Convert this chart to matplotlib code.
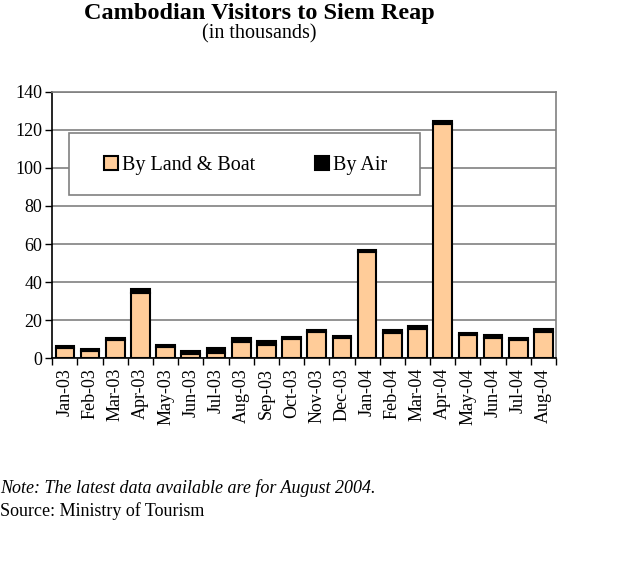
import matplotlib
matplotlib.use("Agg")
import matplotlib.pyplot as plt
from matplotlib.patches import Rectangle, Patch
import numpy as np

months = ["Jan-03", "Feb-03", "Mar-03", "Apr-03", "May-03", "Jun-03", "Jul-03",
          "Aug-03", "Sep-03", "Oct-03", "Nov-03", "Dec-03", "Jan-04", "Feb-04",
          "Mar-04", "Apr-04", "May-04", "Jun-04", "Jul-04", "Aug-04"]
land_boat = [5.5, 4.0, 9.8, 34.3, 5.7, 2.5, 3.0, 8.6, 7.0, 10.0, 13.6, 10.7,
             56.0, 13.4, 15.4, 123.3, 12.0, 10.6, 9.4, 14.0]
by_air = [1.0, 1.0, 1.0, 2.0, 1.2, 1.5, 2.4, 2.0, 1.9, 1.0, 1.4, 1.0,
          1.0, 1.4, 1.5, 1.5, 1.4, 1.4, 1.2, 1.5]
yticks = [0, 20, 40, 60, 80, 100, 120, 140]

plt.rcParams['font.family'] = ['Liberation Serif', 'DejaVu Serif']

fig = plt.figure(figsize=(6.2, 5.73), dpi=100)
ax = fig.add_axes([52.3/620, 1-358.3/573, (556-52.3)/620, (358.3-91.7)/573])

x = np.arange(len(months))
w = 0.74
ax.bar(x, land_boat, width=w, color="#FFCC99", edgecolor="black", linewidth=1.5, zorder=3)
ax.bar(x, by_air, width=w, bottom=land_boat, color="black", edgecolor="black", linewidth=1.5, zorder=3)

ax.set_xlim(-0.5, len(months) - 0.5)
ax.set_ylim(0, 140)
ax.set_yticks(yticks)
ax.set_yticklabels([str(v) for v in yticks], fontsize=13)
ax.yaxis.grid(True, color="#808080", linewidth=1.2, zorder=0)
ax.set_axisbelow(True)

ax.set_xticks(np.arange(len(months) + 1) - 0.5)
ax.set_xticklabels([])
ax.set_xticks(x, minor=True)
ax.set_xticklabels(months, minor=True, rotation=90, fontsize=13, va="top")
ax.tick_params(axis="x", which="major", length=5, width=1, color="black", direction="out")
ax.tick_params(axis="x", which="minor", length=0, pad=7)
ax.tick_params(axis="y", length=5, width=1, direction="out", pad=2)

for s in ["top", "right"]:
    ax.spines[s].set_color("#808080")
    ax.spines[s].set_linewidth(1.2)
for s in ["left", "bottom"]:
    ax.spines[s].set_color("black")
    ax.spines[s].set_linewidth(1.2)

# legend box
x0, x1 = (69.3-52.3)/503.7, (420-52.3)/503.7
y0, y1 = (358.3-195)/266.6, (358.3-132.7)/266.6
ax.add_patch(Rectangle((x0, y0), x1-x0, y1-y0, transform=ax.transAxes,
                       facecolor="white", edgecolor="#808080", linewidth=1.2, zorder=4))
handles = [Patch(facecolor="#FFCC99", edgecolor="black", linewidth=1.5),
           Patch(facecolor="black", edgecolor="black", linewidth=1.5)]
leg = ax.legend(handles, ["By Land & Boat", "By Air"], loc="center",
                bbox_to_anchor=((x0+x1)/2 + 0.002, (y0+y1)/2 - 0.005), bbox_transform=ax.transAxes,
                ncol=2, frameon=False, fontsize=14.5, handlelength=0.7, handleheight=0.7,
                handletextpad=0.2, columnspacing=3.0)
leg.set_zorder(5)

fig.text(259/620, 1-14/573, "Cambodian Visitors to Siem Reap", ha="center", va="center",
         fontsize=17.5, fontweight="bold")
fig.text(259/620, 1-34/573, "(in thousands)", ha="center", va="center", fontsize=14.5)
fig.text(0, 1-488/573, "Note: The latest data available are for August 2004.", ha="left",
         va="center", fontsize=13, style="italic")
fig.text(0, 1-511/573, "Source: Ministry of Tourism", ha="left", va="center", fontsize=13)

fig.savefig("out.png", dpi=100)
